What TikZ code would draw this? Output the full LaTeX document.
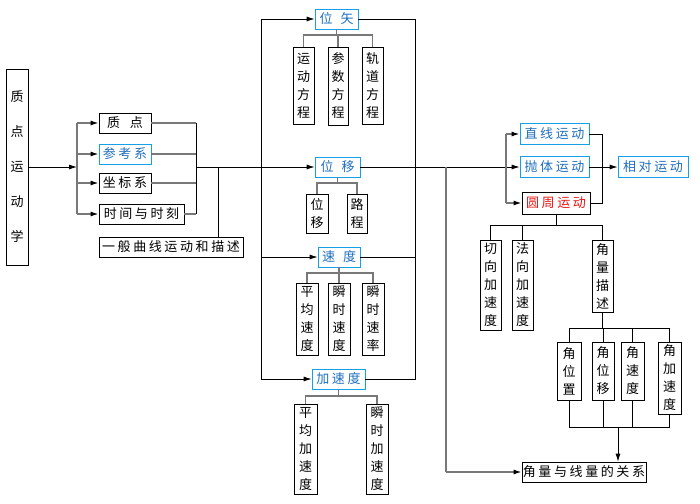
\documentclass[tikz,border=0pt]{standalone}
\usepackage{fontspec}
\setmainfont{Noto Sans CJK SC}[LetterSpace=20]
\usetikzlibrary{arrows.meta}
\definecolor{btxt}{RGB}{30,110,190}
\definecolor{bbdr}{RGB}{20,160,230}
\definecolor{rtxt}{RGB}{235,20,20}
\definecolor{gln}{RGB}{120,120,120}
\tikzset{
 box/.style={draw=black, line width=0.8pt, inner sep=0pt, font=\fontsize{13}{18}\selectfont, align=center},
 bluebox/.style={box, draw=bbdr, text=btxt},
 redbox/.style={box, text=rtxt},
 gl/.style={draw=gln, line width=1.3pt},
 bl/.style={draw=black, line width=0.8pt},
 arr/.style={-{Latex[length=8pt,width=5pt,color=black]}},
}
\begin{document}
\begin{tikzpicture}[x=1pt,y=-1pt]
\useasboundingbox (0,0) rectangle (700,503);
% left
\node[box, minimum width=22pt, minimum height=196pt, font=\fontsize{13}{35}\selectfont] (zd) at (17,167) {质\\点\\运\\动\\学};
\node[box, minimum width=52pt, minimum height=20pt] (zdian) at (125,123) {质\hspace{10pt}点};
\node[bluebox, minimum width=52pt, minimum height=20pt] (ckx) at (125,154) {参考系};
\node[box, minimum width=52pt, minimum height=20pt] (zbx) at (125,183) {坐标系};
\node[box, minimum width=85pt, minimum height=20pt] (sj) at (141.5,214) {时间与时刻};
\node[box, minimum width=144pt, minimum height=20pt] (yb) at (171,247) {一般曲线运动和描述};
% middle
\node[bluebox, minimum width=43pt, minimum height=20pt] (wsh) at (336.5,19) {位\hspace{8pt}矢};
\node[box, minimum width=21pt, minimum height=77pt] (ydfc) at (303.5,85.5) {运\\动\\方\\程};
\node[box, minimum width=20pt, minimum height=78pt] (csfc) at (338,86) {参\\数\\方\\程};
\node[box, minimum width=21pt, minimum height=77pt] (gdfc) at (372.5,85.5) {轨\\道\\方\\程};
\node[bluebox, minimum width=45pt, minimum height=20pt] (wy) at (337.5,167) {位\hspace{8pt}移};
\node[box, minimum width=22pt, minimum height=39pt] (wy2) at (317,213.5) {位\\移};
\node[box, minimum width=20pt, minimum height=39pt] (lc) at (357,213.5) {路\\程};
\node[bluebox, minimum width=42pt, minimum height=20pt] (sd) at (339,257) {速\hspace{8pt}度};
\node[box, minimum width=22pt, minimum height=72pt] (pjsd) at (307,319) {平\\均\\速\\度};
\node[box, minimum width=22pt, minimum height=72pt] (ssd) at (339,319) {瞬\\时\\速\\度};
\node[box, minimum width=22pt, minimum height=72pt] (ssl) at (373,319) {瞬\\时\\速\\率};
\node[bluebox, minimum width=53pt, minimum height=20pt] (jsd) at (338.5,379) {加速度};
\node[box, minimum width=23pt, minimum height=90pt] (pjjsd) at (305.5,449) {平\\均\\加\\速\\度};
\node[box, minimum width=22pt, minimum height=90pt] (ssjsd) at (377,449) {瞬\\时\\加\\速\\度};
% right
\node[bluebox, minimum width=69pt, minimum height=21pt] (zx) at (554.5,134) {直线运动};
\node[bluebox, minimum width=69pt, minimum height=21pt] (pt) at (554.5,167) {抛体运动};
\node[redbox, minimum width=68pt, minimum height=22pt] (yz) at (556,203) {圆周运动};
\node[bluebox, minimum width=70pt, minimum height=21pt] (xd) at (653,167) {相对运动};
\node[box, minimum width=21pt, minimum height=90pt] (qx) at (490.5,285) {切\\向\\加\\速\\度};
\node[box, minimum width=21pt, minimum height=90pt] (fx) at (522.5,285) {法\\向\\加\\速\\度};
\node[box, minimum width=21pt, minimum height=72pt] (jlms) at (602.5,276) {角\\量\\描\\述};
\node[box, minimum width=24pt, minimum height=58pt] (jwz) at (569,371) {角\\位\\置};
\node[box, minimum width=22pt, minimum height=58pt] (jwy) at (603,371) {角\\位\\移};
\node[box, minimum width=23pt, minimum height=58pt] (jsdu) at (632.5,371) {角\\速\\度};
\node[box, minimum width=23pt, minimum height=72pt] (jjsd) at (669.5,378) {角\\加\\速\\度};
\node[box, minimum width=124pt, minimum height=20pt] (gx) at (584,472) {角量与线量的关系};
% coordinates
\coordinate (L1) at (77,167);
\coordinate (La) at (77,123);
\coordinate (Lb) at (77,214);
\coordinate (Ra) at (196,123);
\coordinate (Rb) at (196,214);
\coordinate (R1) at (196,167);
\coordinate (J1) at (218,167);
\coordinate (M1) at (261,19);
\coordinate (M2) at (261,379);
\coordinate (M3) at (261,257);
\coordinate (N1) at (415,19);
\coordinate (N2) at (415,379);
\coordinate (B1) at (337,35);
\coordinate (B2) at (337,183);
\coordinate (B3) at (339,273);
\coordinate (B4) at (338,396);
\coordinate (P1) at (506,134);
\coordinate (P2) at (506,203);
\coordinate (Q1) at (602,134);
\coordinate (Q2) at (602,203);
\coordinate (S1) at (446,167);
\coordinate (S2) at (446,472);
\coordinate (C1) at (556,225);
\coordinate (C2) at (603,328);
\coordinate (C3) at (603,427);
\coordinate (T) at (618,427);
% left connectors
\draw[bl,arr] (zd.east) -- (L1);
\draw[gl] (La) -- (Lb);
\draw[gl,arr] (La) -- (zdian.west);
\draw[gl,arr] (ckx.west -| La) -- (ckx.west);
\draw[gl,arr] (zbx.west -| La) -- (zbx.west);
\draw[gl,arr] (Lb) -- (sj.west);
\draw[gl] (zdian.east) -- (Ra);
\draw[gl] (ckx.east) -- (ckx.east -| Ra);
\draw[gl] (zbx.east) -- (zbx.east -| Ra);
\draw[gl] (sj.east) -- (Rb);
\draw[bl] (Ra) -- (Rb);
\draw[bl,arr] (R1) -- (wy.west);
\draw[bl] (J1) -- (J1 |- yb.north);
% middle connectors
\draw[bl] (M1) -- (M2);
\draw[bl,arr] (M1) -- (wsh.west);
\draw[bl,arr] (M3) -- (sd.west);
\draw[bl,arr] (M2) -- (jsd.west);
\draw[bl] (wsh.east) -- (N1) -- (N2) -- (jsd.east);
\draw[bl] (sd.east) -- (sd.east -| N1);
\draw[bl,arr] (wy.east) -- (pt.west);
\draw[gl] (wsh.south) -- (wsh.south |- B1);
\draw[gl] (ydfc.north) -- (ydfc.north |- B1) -- (gdfc.north |- B1) -- (gdfc.north);
\draw[gl] (csfc.north) -- (csfc.north |- B1);
\draw[gl] (wy.south) -- (wy.south |- B2);
\draw[gl] (wy2.north) -- (wy2.north |- B2) -- (lc.north |- B2) -- (lc.north);
\draw[gl] (sd.south) -- (sd.south |- B3);
\draw[gl] (pjsd.north) -- (pjsd.north |- B3) -- (ssl.north |- B3) -- (ssl.north);
\draw[gl] (ssd.north) -- (ssd.north |- B3);
\draw[gl] (jsd.south) -- (jsd.south |- B4);
\draw[gl] (pjjsd.north) -- (pjjsd.north |- B4) -- (ssjsd.north |- B4) -- (ssjsd.north);
% right connectors
\draw[gl] (P1) -- (P2);
\draw[gl,arr] (P1) -- (zx.west);
\draw[gl,arr] (P2) -- (yz.west);
\draw[bl] (zx.east) -- (Q1) -- (Q2) -- (yz.east);
\draw[bl,arr] (pt.east) -- (xd.west);
\draw[gl] (S1) -- (S2);
\draw[gl,arr] (S2) -- (gx.west);
\draw[bl] (yz.south) -- (yz.south |- C1);
\draw[bl] (qx.north) -- (qx.north |- C1) -- (jlms.north |- C1) -- (jlms.north);
\draw[bl] (fx.north) -- (fx.north |- C1);
\draw[bl] (jlms.south) -- (jlms.south |- C2);
\draw[bl] (jwz.north) -- (jwz.north |- C2) -- (jjsd.north |- C2) -- (jjsd.north);
\draw[bl] (jwy.north) -- (jwy.north |- C2);
\draw[bl] (jsdu.north) -- (jsdu.north |- C2);
\draw[bl] (jwz.south) -- (jwz.south |- C3) -- (jjsd.south |- C3) -- (jjsd.south);
\draw[bl] (jwy.south) -- (jwy.south |- C3);
\draw[bl] (jsdu.south) -- (jsdu.south |- C3);
\draw[bl,arr] (T) -- (T |- gx.north);
\end{tikzpicture}
\end{document}
